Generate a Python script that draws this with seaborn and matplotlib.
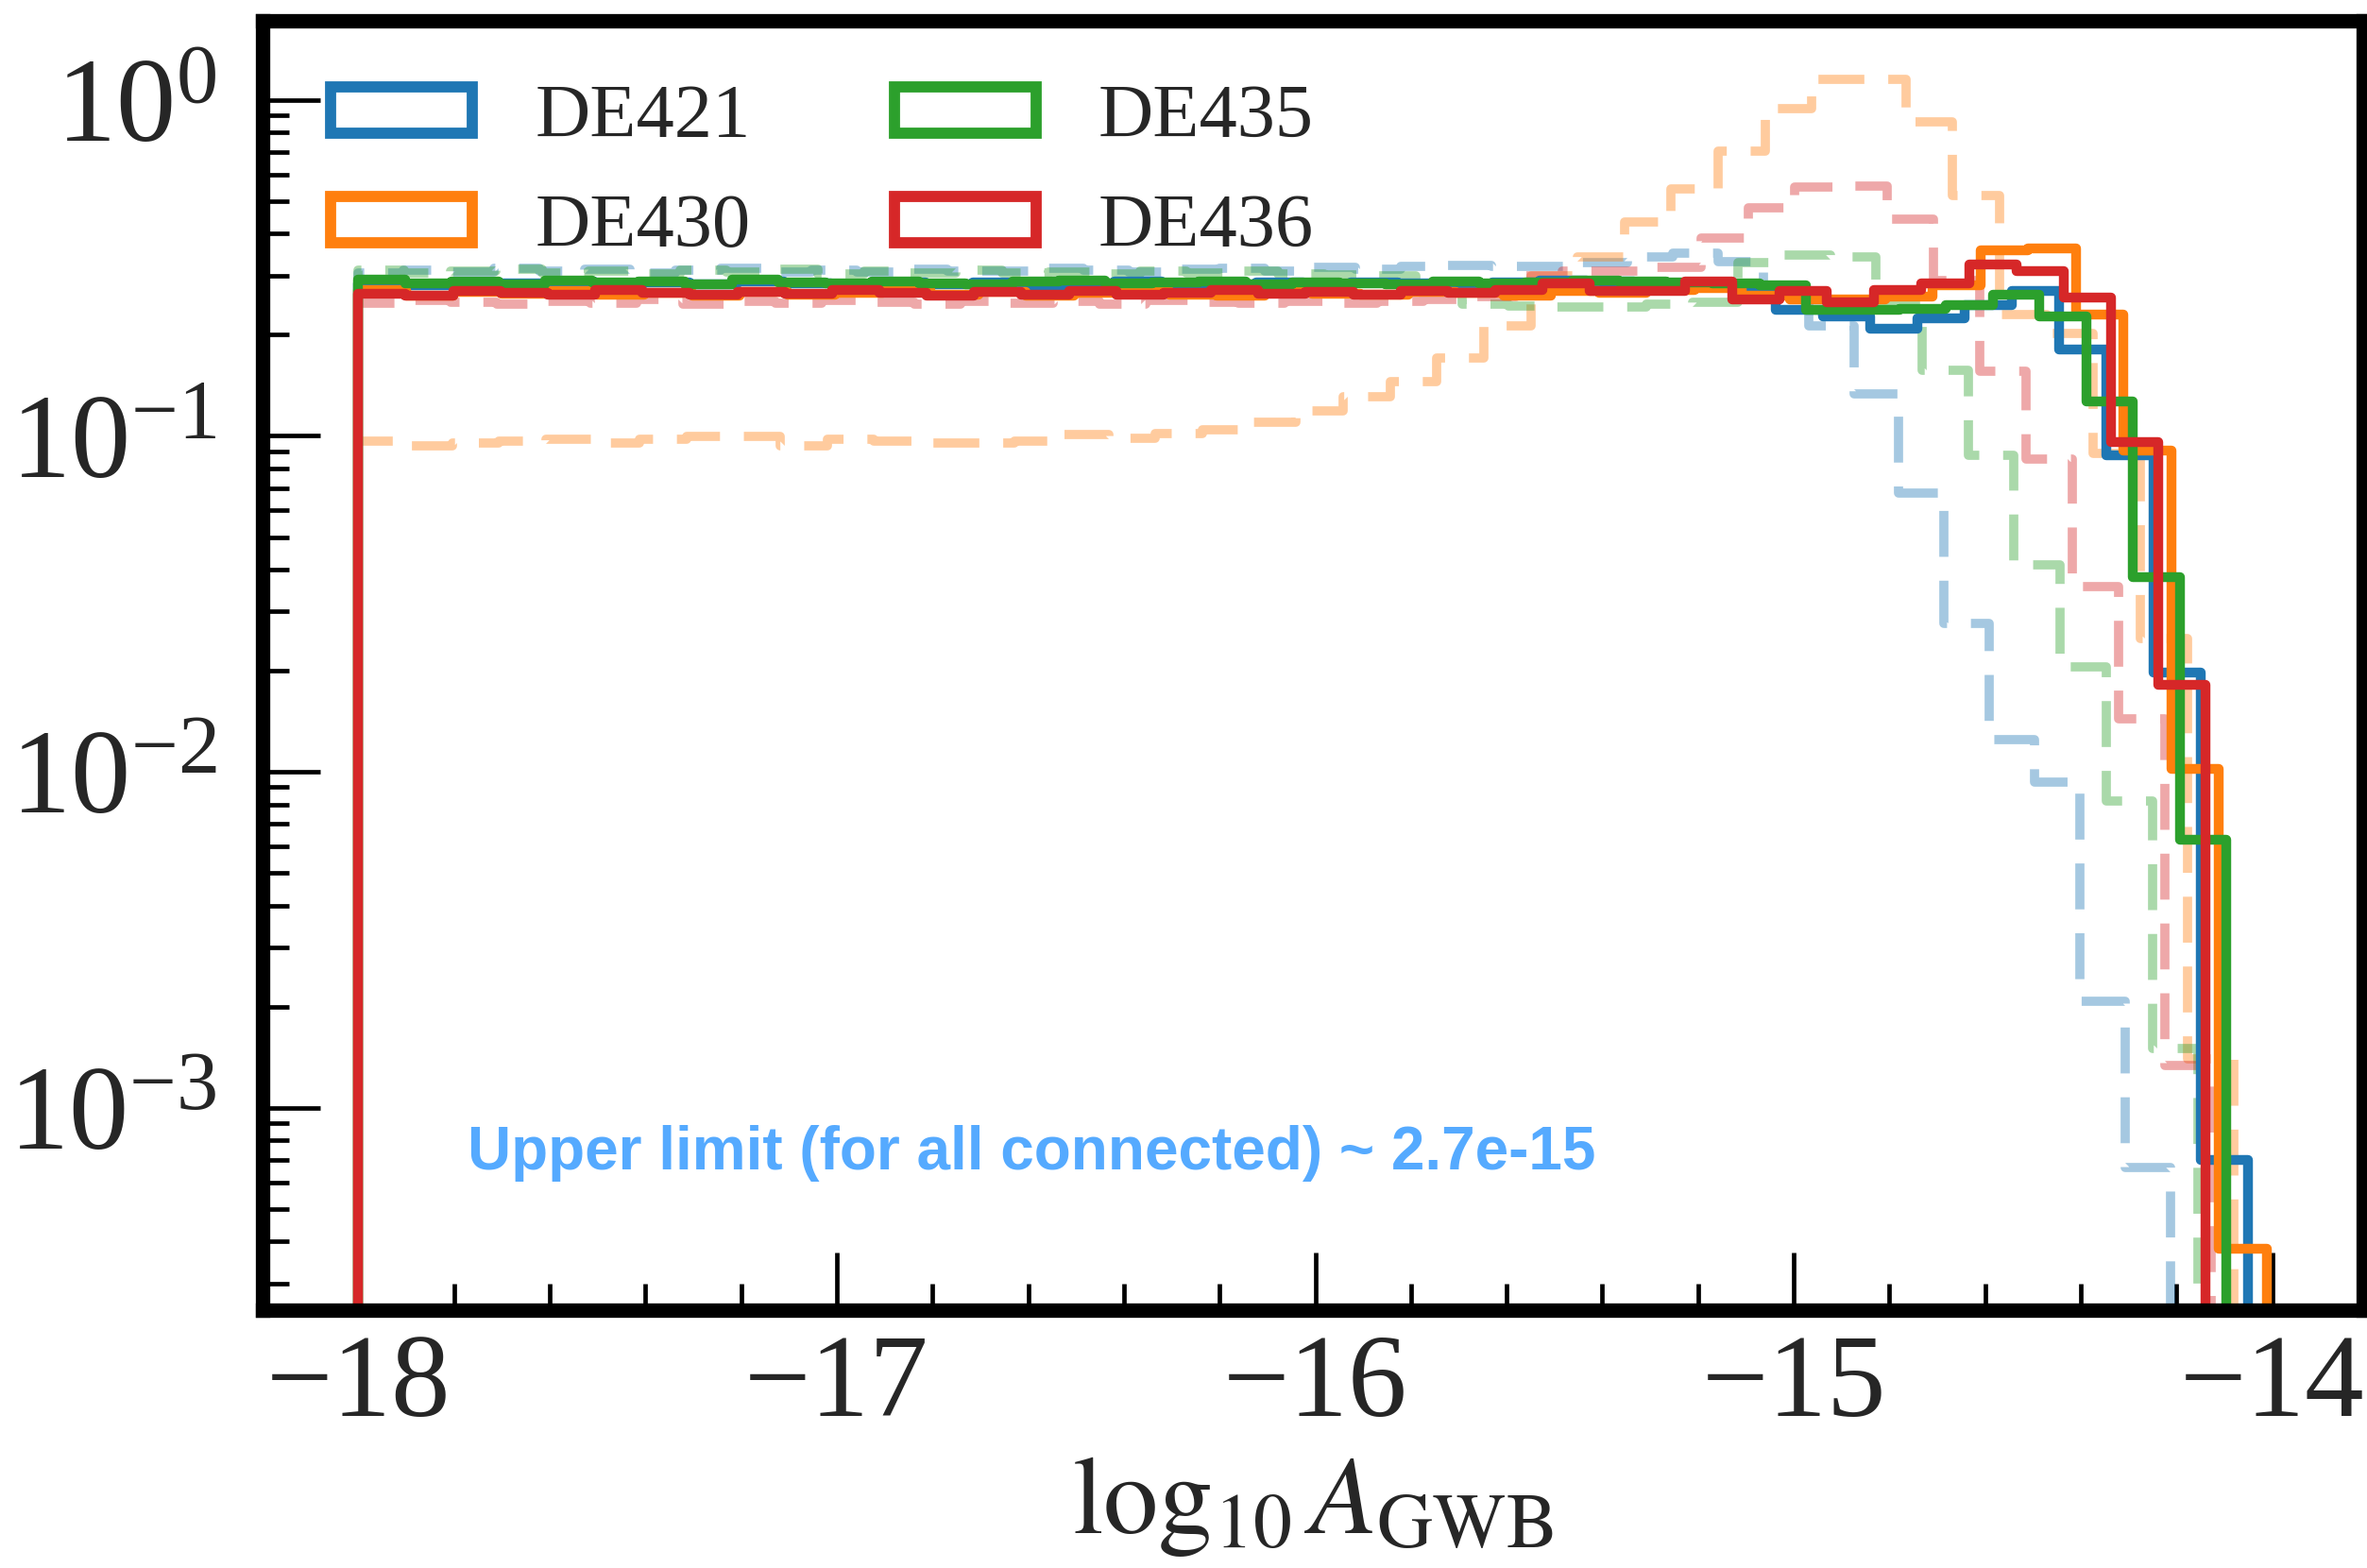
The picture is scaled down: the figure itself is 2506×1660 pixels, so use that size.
import numpy as np
import matplotlib
matplotlib.use("Agg")
import matplotlib.pyplot as plt
import seaborn as sns
from matplotlib.patches import Patch
from matplotlib.ticker import MultipleLocator, LogLocator, NullFormatter

# ---------------- data (normalised histograms, 40 bins from -18 to each upper end) ----------------
labels = ["DE421", "DE430", "DE435", "DE436"]
colors = ["#1f77b4", "#ff7f0e", "#2ca02c", "#d62728"]
x_low = -18.0

# solid curves (upper end of binning range, bin heights)
hi_solid = [-14.05, -14.012, -14.096, -14.04]
de421_solid = [0.285, 0.281, 0.287, 0.284, 0.289, 0.283, 0.286, 0.282, 0.288, 0.285,
               0.280, 0.286, 0.283, 0.287, 0.281, 0.285, 0.289, 0.284, 0.282, 0.286,
               0.283, 0.287, 0.284, 0.280, 0.286, 0.290, 0.288, 0.285, 0.282, 0.275,
               0.237, 0.227, 0.208, 0.224, 0.245, 0.270, 0.181, 0.0877, 0.0197, 0.0007]
de430_solid = [0.272, 0.262, 0.268, 0.265, 0.270, 0.263, 0.267, 0.261, 0.269, 0.264,
               0.266, 0.271, 0.263, 0.268, 0.262, 0.267, 0.270, 0.264, 0.261, 0.268,
               0.265, 0.263, 0.269, 0.266, 0.262, 0.270, 0.267, 0.272, 0.275, 0.262,
               0.255, 0.255, 0.260, 0.280, 0.356, 0.3605, 0.229, 0.0906, 0.0102, 0.00038]
de435_solid = [0.292, 0.285, 0.289, 0.283, 0.290, 0.286, 0.288, 0.282, 0.291, 0.287,
               0.284, 0.289, 0.285, 0.283, 0.288, 0.290, 0.284, 0.286, 0.289, 0.283,
               0.287, 0.285, 0.282, 0.288, 0.284, 0.286, 0.290, 0.288, 0.287, 0.285,
               0.281, 0.237, 0.237, 0.239, 0.245, 0.2635, 0.2264, 0.1266, 0.0379, 0.0063]
de436_solid = [0.265, 0.262, 0.270, 0.266, 0.264, 0.271, 0.267, 0.263, 0.269, 0.265,
               0.272, 0.266, 0.262, 0.268, 0.264, 0.270, 0.263, 0.267, 0.271, 0.265,
               0.268, 0.264, 0.270, 0.266, 0.272, 0.284, 0.270, 0.270, 0.288, 0.255,
               0.270, 0.250, 0.272, 0.2835, 0.3237, 0.310, 0.258, 0.0956, 0.0182, 0.0001]

# dashed (faded) curves
hi_dashed = [-14.212, -14.08, -14.155, -14.128]
de421_dashed = [0.305, 0.312, 0.308, 0.315, 0.309, 0.313, 0.306, 0.311, 0.316, 0.308,
                0.312, 0.307, 0.314, 0.310, 0.309, 0.315, 0.311, 0.308, 0.313, 0.316,
                0.310, 0.318, 0.314, 0.320, 0.322, 0.320, 0.320, 0.328, 0.341, 0.350,
                0.330, 0.270, 0.212, 0.133, 0.0677, 0.0277, 0.0125, 0.00934, 0.00208, 0.000665]
de430_dashed = [0.0966, 0.0935, 0.0955, 0.0966, 0.0977, 0.0955, 0.0977, 0.0994, 0.0994, 0.0935,
                0.0977, 0.0966, 0.0955, 0.0955, 0.0965, 0.1008, 0.0986, 0.1019, 0.1042, 0.110,
                0.119, 0.131, 0.145, 0.171, 0.2125, 0.300, 0.340, 0.433, 0.543, 0.703,
                0.940, 1.154, 1.155, 0.859, 0.520, 0.230, 0.202, 0.0887, 0.0249, 0.0014]
de435_dashed = [0.312, 0.305, 0.309, 0.314, 0.306, 0.310, 0.303, 0.311, 0.307, 0.313,
                0.304, 0.309, 0.306, 0.312, 0.305, 0.308, 0.303, 0.310, 0.306, 0.309,
                0.304, 0.302, 0.300, 0.270, 0.247, 0.243, 0.242, 0.242, 0.246, 0.250,
                0.328, 0.345, 0.341, 0.245, 0.157, 0.0877, 0.0413, 0.0205, 0.0082, 0.0015]
de436_dashed = [0.248, 0.253, 0.250, 0.246, 0.252, 0.249, 0.254, 0.247, 0.251, 0.248,
                0.253, 0.250, 0.246, 0.252, 0.249, 0.251, 0.247, 0.253, 0.250, 0.248,
                0.252, 0.249, 0.251, 0.254, 0.260, 0.300, 0.310, 0.310, 0.317, 0.389,
                0.477, 0.550, 0.555, 0.442, 0.290, 0.156, 0.0851, 0.0356, 0.0144, 0.00134]

solid_sets = [de421_solid, de430_solid, de435_solid, de436_solid]
dashed_sets = [de421_dashed, de430_dashed, de435_dashed, de436_dashed]

x_ticks = [-18, -17, -16, -15, -14]
x_label = r"$\log_{10}A_{\rm GWB}$"
note = "Upper limit (for all connected) ~ 2.7e-15"

# ---------------- style ----------------
sns.set_theme(style="ticks")
plt.rcParams["font.family"] = ["Liberation Serif", "DejaVu Serif"]
plt.rcParams["mathtext.fontset"] = "stix"

W, H = 2506, 1660
fig = plt.figure(figsize=(W / 100, H / 100), dpi=100)
ax = fig.add_axes([278 / W, 1 - 1387 / H, (2502 - 278) / W, (1387 - 22) / H])


def draw(heights, hi, color, **kw):
    n = len(heights)
    w = (hi - x_low) / n
    edges = np.linspace(x_low - w, hi + w, n + 3)
    h = np.concatenate([[0.0], np.asarray(heights, float), [0.0]])
    centers = 0.5 * (edges[:-1] + edges[1:])
    sns.histplot(x=centers, weights=h, bins=list(edges), element="step", fill=False,
                 color=color, ax=ax, **kw)


for hts, hi, c in zip(dashed_sets, hi_dashed, colors):
    draw(hts, hi, c, linewidth=7, alpha=0.4, linestyle=(0, (5.0, 2.6)))
for hts, hi, c in zip(solid_sets, hi_solid, colors):
    draw(hts, hi, c, linewidth=7.5)

ax.set_yscale("log")
ax.set_xlim(-18.2, -13.81)
ax.set_ylim(2.5e-4, 1.72)
ax.set_ylabel("")
ax.set_xlabel(x_label, fontsize=84, labelpad=10)

ax.set_xticks(x_ticks)
ax.set_xticklabels([f"\u2212{abs(t)}" for t in x_ticks])
ax.xaxis.set_minor_locator(MultipleLocator(0.2))
ax.yaxis.set_major_locator(LogLocator(base=10, numticks=10))
ax.yaxis.set_minor_locator(LogLocator(base=10, subs=np.arange(2, 10), numticks=20))
ax.yaxis.set_minor_formatter(NullFormatter())

ax.tick_params(axis="both", which="both", direction="in", top=False, right=False,
               color="black")
ax.tick_params(axis="both", which="major", length=44, width=3.4)
ax.tick_params(axis="both", which="minor", length=20, width=3.4)
ax.tick_params(axis="x", which="major", labelsize=90, pad=18)
ax.tick_params(axis="y", which="major", labelsize=91, pad=35)

for s in ax.spines.values():
    s.set_linewidth(11)
    s.set_color("black")

handles = [Patch(facecolor="none", edgecolor=c, linewidth=8.5, label=l)
           for c, l in zip(colors, labels)]
ax.legend(handles=handles, ncol=2, loc="upper left", bbox_to_anchor=(0.0325, 0.951),
          frameon=False, fontsize=58, handlelength=1.86, handleheight=0.56,
          handletextpad=0.82, columnspacing=1.89, labelspacing=0.535,
          borderaxespad=0, borderpad=0)

fig.text(495 / W, 1 - 1238 / H, note, color="#55aaff", fontsize=46, fontweight="bold",
         family=["Liberation Sans Narrow", "Liberation Sans", "DejaVu Sans"],
         va="baseline", ha="left")

fig.savefig("out.png", dpi=100, facecolor="white")
